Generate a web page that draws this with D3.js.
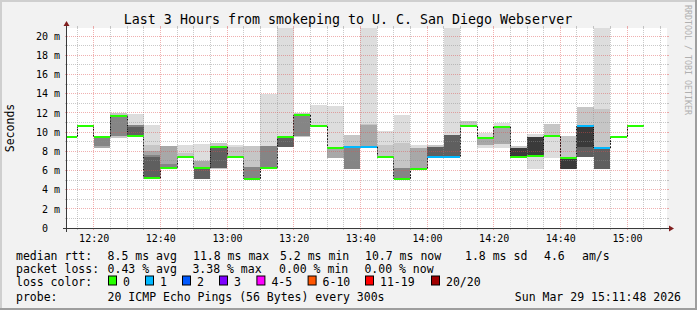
<!DOCTYPE html>
<html><head><meta charset="utf-8">
<script src="https://cdn.jsdelivr.net/npm/d3@7"></script>
<style>
html,body{margin:0;padding:0;background:#f2f2f2;}
svg{display:block;}
text{font-family:"DejaVu Sans Mono",monospace;fill:#000;}
</style></head><body>
<svg id="chart" width="697" height="310"></svg>
<script>
// ---------------- data ----------------
const titleText = "Last 3 Hours from smokeping to U. C. San Diego Webserver";
const yAxisTitle = "Seconds";
const watermark = "RRDTOOL / TOBI OETIKER";
const chartDay = "2026-03-29";
const rangeStart = "12:12:00";
const rangeEnd = "15:12:00";

// 5-minute measurement intervals (start times)
const intervalStart = ["12:10","12:15","12:20","12:25","12:30","12:35","12:40","12:45","12:50","12:55",
  "13:00","13:05","13:10","13:15","13:20","13:25","13:30","13:35","13:40","13:45",
  "13:50","13:55","14:00","14:05","14:10","14:15","14:20","14:25","14:30","14:35",
  "14:40","14:45","14:50","14:55","15:00"];
// median rtt in ms
const median = [9.5,10.65,9.5,11.7,9.62,5.17,6.28,7.43,6.28,8.47,
  7.43,5.1,6.28,9.51,11.77,10.63,8.33,8.47,8.47,7.43,
  5.1,6.18,7.43,7.43,10.63,9.41,10.56,7.43,7.5,9.58,
  7.33,10.63,8.33,9.51,10.63];
// lost pings (index into lossLabels)
const lossBucket = [0,0,0,0,0,0,0,0,0,0,
  0,0,0,0,0,0,0,1,1,0,
  0,0,1,1,0,0,0,0,0,0,
  0,1,1,0,0];
// smoke: ranges [lo, hi] in ms covered by ping pairs, outermost (1) to innermost (6)
const smoke1 = [null,null,null,null,[9.6,11.87],[5.2,10.73],null,[7.43,8.65],[5.07,8.75],null,
  [7.43,8.65],null,[6.28,14.0],[8.47,25],null,[10.63,12.81],[7.26,12.7],null,[8.47,25],[7.43,10.1],
  [5.1,11.77],[6.18,8.65],null,[7.43,25],null,[8.3,9.93],[8.37,10.97],null,[6.18,9.76],[7.33,10.8],
  null,null,[6.15,25],null,null];
const smoke2 = [null,null,null,[9.35,11.95],null,[5.2,8.65],null,[7.43,7.8],null,[6.1,8.82],
  [7.43,8.4],[5.1,8.54],null,null,[9.5,12.0],null,null,[6.15,9.69],[8.47,10.83],[7.43,8.65],
  [5.1,8.82],null,[7.43,8.6],null,[10.5,11.15],null,null,[7.43,8.5],null,[9.58,10.8],
  [6.18,9.58],[7.36,12.57],[6.15,12.43],null,null];
const smoke3 = [null,null,[8.3,9.55],null,null,[5.2,8.0],[6.28,8.5],null,[5.07,6.98],null,
  null,null,null,null,null,null,[7.26,8.4],null,[8.47,10.73],null,
  null,[6.18,8.3],null,null,null,[8.6,9.4],[8.75,10.56],null,null,null,
  null,null,null,null,null];
const smoke4 = [null,null,[8.5,9.55],[9.6,11.8],[9.6,10.73],[5.2,7.6],[6.28,6.7],null,null,null,
  null,[5.1,6.4],[6.28,8.5],null,[9.58,11.8],null,null,[6.15,8.5],null,null,
  [5.1,6.2],null,null,null,null,null,null,null,null,null,
  null,null,null,null,null];
const smoke5 = [null,null,null,null,[9.6,10.5],[5.2,7.4],null,null,[5.07,6.3],[6.2,8.47],
  null,null,null,[8.47,9.51],null,null,null,null,null,null,
  null,null,[7.43,8.4],[7.43,9.69],null,null,null,null,null,null,
  null,[7.36,10.63],[6.15,8.33],null,null];
const smoke6 = [null,null,null,null,null,null,null,null,null,null,
  null,null,null,null,null,null,null,null,null,null,
  null,null,null,null,null,null,null,[7.43,8.37],[7.5,9.51],null,
  [6.18,7.33],[8.47,10.63],null,null,null];

const yTicks = [0,2,4,6,8,10,12,14,16,18,20];
const xTickLabels = ["12:20","12:40","13:00","13:20","13:40","14:00","14:20","14:40","15:00"];
const lossLabels = ["0","1","2","3","4-5","6-10","11-19","20/20"];
const lossColors = ["#26ff00","#00b8ff","#0059ff","#7e00ff","#ff00ff","#ff5500","#ff0000","#a10000"];
const rttStats = ["8.5 ms avg","11.8 ms max","5.2 ms min","10.7 ms now","1.8 ms sd","4.6","am/s"];
const lossStats = ["0.43 % avg","3.38 % max","0.00 % min","0.00 % now"];
const probeText = "20 ICMP Echo Pings (56 Bytes) every 300s";
const stampText = "Sun Mar 29 15:11:48 2026";

// ---------------- layout ----------------
const W = 697, H = 310;
const X0 = 67, X1 = 667, Y0 = 228, Y1 = 28;
const parse = d3.timeParse("%Y-%m-%d %H:%M:%S");
const T = s => parse(chartDay + " " + (s.length === 5 ? s + ":00" : s));

const svg = d3.select("#chart");
const x = d3.scaleTime().domain([T(rangeStart), T(rangeEnd)]).range([X0, X1]);
const y = d3.scaleLinear().domain([0, 200 / 9.6]).range([Y0, Y1]);

// background & shade borders
svg.append("rect").attr("width", W).attr("height", H).attr("fill", "#f2f2f2");
svg.append("rect").attr("x", 0).attr("y", 0).attr("width", W).attr("height", 2).attr("fill", "#cfcfcf");
svg.append("rect").attr("x", 0).attr("y", 0).attr("width", 2).attr("height", H).attr("fill", "#cfcfcf");
svg.append("rect").attr("x", 0).attr("y", H - 2).attr("width", W).attr("height", 2).attr("fill", "#9e9e9e");
svg.append("rect").attr("x", W - 2).attr("y", 0).attr("width", 2).attr("height", H).attr("fill", "#9e9e9e");

// canvas
svg.append("rect").attr("x", X0).attr("y", Y1).attr("width", X1 - X0).attr("height", Y0 - Y1).attr("fill", "#fff");

svg.append("clipPath").attr("id", "plotclip").append("rect")
  .attr("x", X0).attr("y", Y1).attr("width", X1 - X0).attr("height", Y0 - Y1);

const plot = svg.append("g").attr("clip-path", "url(#plotclip)");

const intervals = intervalStart.map((s, i) => {
  const t0 = T(s), t1 = d3.timeMinute.offset(t0, 5);
  return { i, x0: Math.max(x(t0), X0), x1: Math.min(x(t1), X1), med: median[i], loss: lossBucket[i] };
});

const smokeLevels = [smoke1, smoke2, smoke3, smoke4, smoke5, smoke6];
const smokeShades = ["#dddddd", "#c6c6c6", "#a8a8a8", "#858585", "#5f5f5f", "#3a3a3a"];
smokeLevels.forEach((lvl, k) => {
  plot.append("g").selectAll("rect")
    .data(intervals.filter(d => lvl[d.i]))
    .join("rect")
    .attr("shape-rendering", "crispEdges")
    .attr("x", d => d.x0).attr("width", d => d.x1 - d.x0)
    .attr("y", d => y(lvl[d.i][1]))
    .attr("height", d => y(lvl[d.i][0]) - y(lvl[d.i][1]))
    .attr("fill", smokeShades[k]);
});

// connectors between medians
const conn = [];
for (let i = 1; i < intervals.length; i++) {
  conn.push({ xb: intervals[i].x0, a: median[i - 1], b: median[i] });
}
plot.append("g").selectAll("line").data(conn).join("line")
  .attr("x1", d => Math.floor(d.xb) + 0.5).attr("x2", d => Math.floor(d.xb) + 0.5)
  .attr("y1", d => y(d.a)).attr("y2", d => y(d.b))
  .attr("stroke", "#111").attr("stroke-width", 1).attr("stroke-dasharray", "2,1");

// median bars coloured by loss
plot.append("g").selectAll("rect").data(intervals).join("rect")
  .attr("shape-rendering", "crispEdges")
  .attr("x", d => d.x0).attr("width", d => d.x1 - d.x0)
  .attr("y", d => Math.round(y(d.med)) - 1).attr("height", 2.4)
  .attr("fill", d => lossColors[d.loss]);

// grid
const gridMinor = "rgba(143,143,143,0.48)";
const gridMajor = "rgba(222,79,79,0.45)";
const minorTimes = d3.timeMinute.every(5).range(T(rangeStart), T(rangeEnd));
const isMajorT = t => t.getMinutes() % 20 === 0;
const g = svg.append("g");
minorTimes.forEach(t => {
  const px = Math.floor(x(t)) + 0.5;
  const col = isMajorT(t) ? gridMajor : gridMinor;
  g.append("line").attr("x1", px).attr("x2", px).attr("y1", Y1).attr("y2", Y0)
    .attr("stroke", col).attr("stroke-dasharray", "1,1");
  g.append("line").attr("x1", px).attr("x2", px).attr("y1", Y1 - 2).attr("y2", Y1).attr("stroke", col);
  g.append("line").attr("x1", px).attr("x2", px).attr("y1", Y0).attr("y2", Y0 + 2).attr("stroke", col);
});
d3.range(1, 21).forEach(v => {
  const py = Math.floor(y(v)) + 0.5;
  const col = v % 2 === 0 ? gridMajor : gridMinor;
  g.append("line").attr("x1", X0).attr("x2", X1).attr("y1", py).attr("y2", py)
    .attr("stroke", col).attr("stroke-dasharray", "1,1");
  g.append("line").attr("x1", X0 - 2).attr("x2", X0).attr("y1", py).attr("y2", py).attr("stroke", col);
  g.append("line").attr("x1", X1).attr("x2", X1 + 2).attr("y1", py).attr("y2", py).attr("stroke", col);
});

// axes lines + arrows
const axisCol = "#3a3a3a", arrowCol = "#801f1f";
svg.append("line").attr("x1", X0 - 4).attr("x2", X1 + 4).attr("y1", Y0 + 0.5).attr("y2", Y0 + 0.5)
  .attr("stroke", axisCol);
svg.append("line").attr("x1", X0 - 0.5).attr("x2", X0 - 0.5).attr("y1", Y0 + 4).attr("y2", Y1 - 4)
  .attr("stroke", axisCol);
svg.append("path").attr("d", `M${X1 + 2},${Y0 - 2.5}L${X1 + 2},${Y0 + 3.5}L${X1 + 7},${Y0 + 0.5}Z`).attr("fill", arrowCol);
svg.append("path").attr("d", `M${X0 - 3.5},${Y1 - 2}L${X0 + 2.5},${Y1 - 2}L${X0 - 0.5},${Y1 - 7}Z`).attr("fill", arrowCol);

// tick labels via d3 axes
const xAxis = d3.axisBottom(x).tickValues(xTickLabels.map(T)).tickFormat(d3.timeFormat("%H:%M"))
  .tickSize(0).tickPadding(6.4);
const gx = svg.append("g").attr("transform", `translate(0,${Y0})`).call(xAxis);
gx.select(".domain").remove();
gx.selectAll("text").attr("font-size", 10).attr("font-family", "DejaVu Sans Mono").attr("fill", "#000");

const yAxis = d3.axisLeft(y).tickValues(yTicks).tickFormat(d => d === 0 ? "0" : d + " m")
  .tickSize(0).tickPadding(6.5);
const gy = svg.append("g").attr("transform", `translate(${X0 - 0.5},0)`).call(yAxis);
gy.select(".domain").remove();
gy.selectAll("text").attr("font-size", 10).attr("font-family", "DejaVu Sans Mono").attr("fill", "#000")
  .attr("x", d => d === 0 ? -18.5 : -6.5);

// titles
svg.append("text").attr("x", 348).attr("y", 24).attr("text-anchor", "middle")
  .attr("font-size", 13.3).text(titleText);
svg.append("text").attr("transform", "translate(14,128) rotate(-90)").attr("text-anchor", "middle")
  .attr("font-size", 11.5).text(yAxisTitle);
svg.append("text").attr("transform", "translate(684.5,5) rotate(90)").attr("text-anchor", "start")
  .attr("font-size", 8.3).style("fill", "#b0b0b0").text(watermark);

// legend
const fs = 11.5;
const L = svg.append("g").attr("font-size", fs);
const row1 = 259.5, row2 = 272.5, row3 = 285.5, row4 = 300.5;
L.append("text").attr("x", 16).attr("y", row1).text("median rtt:");
const rttX = [107.6, 193, 280, 365, 465, 544, 582];
rttStats.forEach((s, i) => L.append("text").attr("x", rttX[i]).attr("y", row1).text(s));
L.append("text").attr("x", 16).attr("y", row2).text("packet loss:");
const lossX = [107.6, 192.4, 279, 364.4];
lossStats.forEach((s, i) => L.append("text").attr("x", lossX[i]).attr("y", row2).text(s));
L.append("text").attr("x", 16).attr("y", row3).text("loss color:");
const boxX = [108, 145, 182, 219, 256.4, 307.6, 365, 431];
lossLabels.forEach((s, i) => {
  L.append("rect").attr("x", boxX[i] + 0.5).attr("y", row3 - 9.5).attr("width", 8).attr("height", 9)
    .attr("fill", lossColors[i]).attr("stroke", "#000").attr("stroke-width", 1);
  L.append("text").attr("x", boxX[i] + 15).attr("y", row3).text(s);
});
L.append("text").attr("x", 16).attr("y", row4).text("probe:");
L.append("text").attr("x", 107.6).attr("y", row4).text(probeText);
L.append("text").attr("x", 681).attr("y", row4).attr("text-anchor", "end").text(stampText);
</script>
</body></html>
